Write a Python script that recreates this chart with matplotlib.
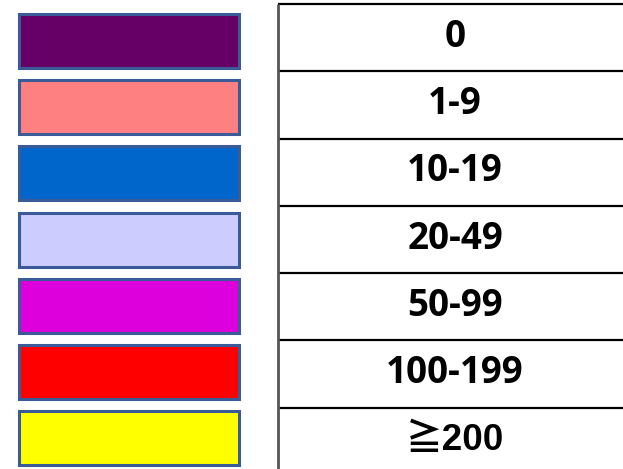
import numpy as np
import matplotlib.pyplot as plt

plt.rcParams['font.family'] = ['Open Sans', 'Noto Sans CJK JP', 'DejaVu Sans']

# legend classes: swatch colour and count range
labels = ["0", "1-9", "10-19", "20-49", "50-99", "100-199", "≧200"]
colors = ["#660066", "#FF8080", "#0066CC", "#CCCCFF", "#DD00DD", "#FF0000", "#FFFF00"]

W, H = 623, 469
fig = plt.figure(figsize=(W / 100, H / 100), dpi=100)
ax = fig.add_axes([0, 0, 1, 1])
ax.set_xlim(0, W)
ax.set_ylim(H, 0)
ax.axis("off")

n = len(labels)
idx = np.arange(n)

# colour swatches on the left
box_top = 14 + idx * 66.2
box_h = 54
ax.barh(box_top + box_h / 2, 220, left=19, height=box_h,
        color=colors, edgecolor="#3A5A98", linewidth=2.2)

# table of ranges on the right
tab_left, tab_top, row_h = 278, 4, 67.3
row_edges = tab_top + np.arange(n + 1) * row_h
ax.hlines(row_edges, tab_left, W + 5, colors="black", linewidth=1.6)
ax.vlines(tab_left, tab_top, H + 5, colors="#555555", linewidth=2)
for i, lab in enumerate(labels):
    fam = ['Liberation Sans', 'Noto Sans CJK JP'] if lab.startswith("≧") else None
    ax.text(455, row_edges[i] + row_h / 2 - 1, lab, ha="center", va="center",
            fontsize=26.5, fontweight="bold", family=fam)

fig.savefig("out.png", dpi=100)
